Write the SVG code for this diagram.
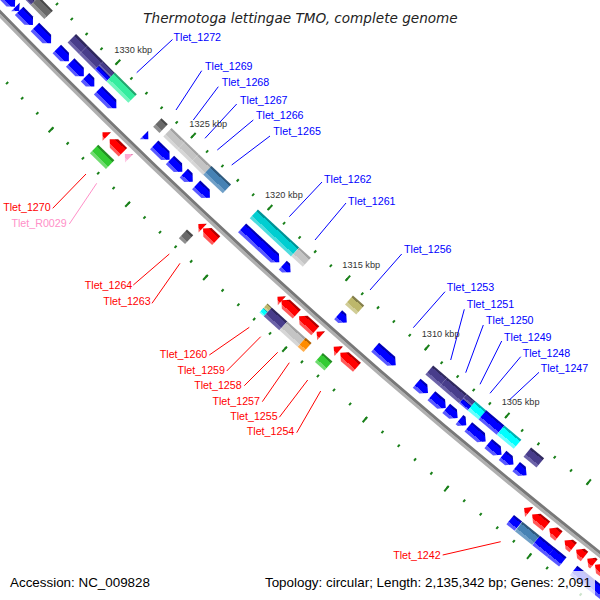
<svg xmlns="http://www.w3.org/2000/svg" width="600" height="600" viewBox="0 0 600 600">
<defs>
<linearGradient id="gBlue" x1="0" y1="0" x2="0" y2="1"><stop offset="0" stop-color="#0000b4"/><stop offset="0.18" stop-color="#0000b4"/><stop offset="0.18" stop-color="#0000ff"/><stop offset="0.72" stop-color="#0000ff"/><stop offset="0.72" stop-color="#5a5aff"/><stop offset="1" stop-color="#5a5aff"/></linearGradient>
<linearGradient id="gRed" x1="0" y1="0" x2="0" y2="1"><stop offset="0" stop-color="#b40000"/><stop offset="0.18" stop-color="#b40000"/><stop offset="0.18" stop-color="#ff0000"/><stop offset="0.72" stop-color="#ff0000"/><stop offset="0.72" stop-color="#ff5a5a"/><stop offset="1" stop-color="#ff5a5a"/></linearGradient>
<linearGradient id="gSlate" x1="0" y1="0" x2="0" y2="1"><stop offset="0" stop-color="#30295e"/><stop offset="0.18" stop-color="#30295e"/><stop offset="0.18" stop-color="#483d8b"/><stop offset="0.72" stop-color="#483d8b"/><stop offset="0.72" stop-color="#6c63a8"/><stop offset="1" stop-color="#6c63a8"/></linearGradient>
<linearGradient id="gDim" x1="0" y1="0" x2="0" y2="1"><stop offset="0" stop-color="#4a4a4a"/><stop offset="0.18" stop-color="#4a4a4a"/><stop offset="0.18" stop-color="#696969"/><stop offset="0.72" stop-color="#696969"/><stop offset="0.72" stop-color="#8f8f8f"/><stop offset="1" stop-color="#8f8f8f"/></linearGradient>
<linearGradient id="gGray" x1="0" y1="0" x2="0" y2="1"><stop offset="0" stop-color="#a2a2a2"/><stop offset="0.18" stop-color="#a2a2a2"/><stop offset="0.18" stop-color="#c4c4c4"/><stop offset="0.72" stop-color="#c4c4c4"/><stop offset="0.72" stop-color="#d6d6d6"/><stop offset="1" stop-color="#d6d6d6"/></linearGradient>
<linearGradient id="gSteel" x1="0" y1="0" x2="0" y2="1"><stop offset="0" stop-color="#305a7d"/><stop offset="0.18" stop-color="#305a7d"/><stop offset="0.18" stop-color="#4682b4"/><stop offset="0.72" stop-color="#4682b4"/><stop offset="0.72" stop-color="#70a0c8"/><stop offset="1" stop-color="#70a0c8"/></linearGradient>
<linearGradient id="gTurq" x1="0" y1="0" x2="0" y2="1"><stop offset="0" stop-color="#009396"/><stop offset="0.18" stop-color="#009396"/><stop offset="0.18" stop-color="#00ced1"/><stop offset="0.72" stop-color="#00ced1"/><stop offset="0.72" stop-color="#4ddcde"/><stop offset="1" stop-color="#4ddcde"/></linearGradient>
<linearGradient id="gCyan" x1="0" y1="0" x2="0" y2="1"><stop offset="0" stop-color="#00b3b3"/><stop offset="0.18" stop-color="#00b3b3"/><stop offset="0.18" stop-color="#00ffff"/><stop offset="0.72" stop-color="#00ffff"/><stop offset="0.72" stop-color="#66ffff"/><stop offset="1" stop-color="#66ffff"/></linearGradient>
<linearGradient id="gKhaki" x1="0" y1="0" x2="0" y2="1"><stop offset="0" stop-color="#847f4b"/><stop offset="0.18" stop-color="#847f4b"/><stop offset="0.18" stop-color="#bdb76b"/><stop offset="0.72" stop-color="#bdb76b"/><stop offset="0.72" stop-color="#d1cd97"/><stop offset="1" stop-color="#d1cd97"/></linearGradient>
<linearGradient id="gAqua" x1="0" y1="0" x2="0" y2="1"><stop offset="0" stop-color="#24a870"/><stop offset="0.18" stop-color="#24a870"/><stop offset="0.18" stop-color="#35ed9f"/><stop offset="0.72" stop-color="#35ed9f"/><stop offset="0.72" stop-color="#70f5bd"/><stop offset="1" stop-color="#70f5bd"/></linearGradient>
<linearGradient id="gGreen" x1="0" y1="0" x2="0" y2="1"><stop offset="0" stop-color="#248f24"/><stop offset="0.18" stop-color="#248f24"/><stop offset="0.18" stop-color="#33cc33"/><stop offset="0.72" stop-color="#33cc33"/><stop offset="0.72" stop-color="#70db70"/><stop offset="1" stop-color="#70db70"/></linearGradient>
<linearGradient id="gOrange" x1="0" y1="0" x2="0" y2="1"><stop offset="0" stop-color="#b36200"/><stop offset="0.18" stop-color="#b36200"/><stop offset="0.18" stop-color="#ff8c00"/><stop offset="0.72" stop-color="#ff8c00"/><stop offset="0.72" stop-color="#ffae4d"/><stop offset="1" stop-color="#ffae4d"/></linearGradient>
<linearGradient id="gPink" x1="0" y1="0" x2="0" y2="1"><stop offset="0" stop-color="#e088b4"/><stop offset="0.18" stop-color="#e088b4"/><stop offset="0.18" stop-color="#ffaad4"/><stop offset="0.72" stop-color="#ffaad4"/><stop offset="0.72" stop-color="#ffc8e4"/><stop offset="1" stop-color="#ffc8e4"/></linearGradient>
</defs>
<style>
.b{fill:url(#gBlue)} .r{fill:url(#gRed)} .sl{fill:url(#gSlate)} .dg{fill:url(#gDim)} .gr{fill:url(#gGray)}
.st{fill:url(#gSteel)} .tq{fill:url(#gTurq)} .cy{fill:url(#gCyan)} .kh{fill:url(#gKhaki)} .aq{fill:url(#gAqua)}
.gn{fill:url(#gGreen)} .or{fill:url(#gOrange)} .pk{fill:url(#gPink)}
.tick{fill:none;stroke:#1a801a}
.lb{stroke:#0000ff;stroke-width:1;fill:none} .lr{stroke:#ff0000;stroke-width:1;fill:none} .lp{stroke:#ff8fc8;stroke-width:1;fill:none}
.lab{font-family:"Liberation Sans",Arial,sans-serif;font-size:10.7px}
.fw{fill:#0000ff} .rv{fill:#ff0000;text-anchor:end} .rn{fill:#ff8fc8;text-anchor:end}
.kbp{font-family:"Liberation Sans",Arial,sans-serif;font-size:9.2px;fill:#333}
.foot{font-family:"Liberation Sans",Arial,sans-serif;font-size:13.4px;fill:#000}
</style>
<rect width="600" height="600" fill="#ffffff"/>
<g id="ticks">
<path class="tick" stroke-width="3" stroke-dasharray="2 19.044" stroke-dashoffset="1" d="M12.94,-41.15 A6121,6121 0 0 0 669.97,548.79"/>
<path class="tick" stroke-width="6" stroke-dasharray="2 103.18" stroke-dashoffset="-41.07" d="M14.74,-42.89 A6118.5,6118.5 0 0 0 671.50,546.81"/>
<path class="tick" stroke-width="3" stroke-dasharray="2 19.357" stroke-dashoffset="1" d="M-52.58,22.00 A6212,6212 0 0 0 614.22,620.72"/>
<path class="tick" stroke-width="6" stroke-dasharray="2 104.83" stroke-dashoffset="-41.73" d="M-54.38,23.74 A6214.5,6214.5 0 0 0 612.69,622.69"/>
</g>
<g id="backbone" fill="none">
<circle cx="4420" cy="-4289" r="6170" stroke="#b0b0b0" stroke-width="3"/>
<circle cx="4420" cy="-4289" r="6167" stroke="#787878" stroke-width="3"/>
</g>
<g id="features" transform="translate(4420 -4289)">
<g id="F1" transform="rotate(135.999) translate(6168.5) rotate(-90)"><polygon class="b" points="0,-21.75 24,-21.75 30,-15.75 24,-9.75 0,-9.75"/></g>
<g id="F2" transform="rotate(135.715) translate(6168.5) rotate(-90)"><polygon class="b" points="0,-21.75 5.4,-15.75 0,-9.75"/></g>
<g id="F3" transform="rotate(135.665) translate(6168.5) rotate(-90)"><polygon class="b" points="0,-21.75 13.7,-21.75 19.7,-15.75 13.7,-9.75 0,-9.75"/></g>
<g id="F4" transform="rotate(135.455) translate(6168.5) rotate(-90)"><polygon class="b" points="0,-21.75 17,-21.75 23,-15.75 17,-9.75 0,-9.75"/></g>
<g id="F5" transform="rotate(135.165) translate(6168.5) rotate(-90)"><polygon class="b" points="0,-21.75 11.1,-21.75 17.1,-15.75 11.1,-9.75 0,-9.75"/></g>
<g id="F6" transform="rotate(134.989) translate(6168.5) rotate(-90)"><polygon class="b" points="0,-21.75 13.3,-21.75 19.3,-15.75 13.3,-9.75 0,-9.75"/></g>
<g id="F7" transform="rotate(134.794) translate(6168.5) rotate(-90)"><polygon class="b" points="0,-21.75 7.1,-21.75 13.1,-15.75 7.1,-9.75 0,-9.75"/></g>
<g id="F8" transform="rotate(134.623) translate(6168.5) rotate(-90)"><polygon class="b" points="0,-21.75 19.7,-21.75 25.7,-15.75 19.7,-9.75 0,-9.75"/></g>
<g id="F9" transform="rotate(134.025) translate(6168.5) rotate(-90)"><polygon class="b" points="0,-21.75 6,-15.75 0,-9.75"/></g>
<g id="F10" transform="rotate(133.893) translate(6168.5) rotate(-90)"><polygon class="b" points="0,-21.75 15.4,-21.75 21.4,-15.75 15.4,-9.75 0,-9.75"/></g>
<g id="F11" transform="rotate(133.69) translate(6168.5) rotate(-90)"><polygon class="b" points="0,-21.75 11.1,-21.75 17.1,-15.75 11.1,-9.75 0,-9.75"/></g>
<g id="F12" transform="rotate(133.512) translate(6168.5) rotate(-90)"><polygon class="b" points="0,-21.75 6.4,-21.75 12.4,-15.75 6.4,-9.75 0,-9.75"/></g>
<g id="F13" transform="rotate(133.353) translate(6168.5) rotate(-90)"><polygon class="b" points="0,-21.75 12.9,-21.75 18.9,-15.75 12.9,-9.75 0,-9.75"/></g>
<g id="F14" transform="rotate(132.768) translate(6168.5) rotate(-90)"><polygon class="b" points="0,-21.75 44.7,-21.75 50.7,-15.75 44.7,-9.75 0,-9.75"/></g>
<g id="F15" transform="rotate(132.254) translate(6168.5) rotate(-90)"><polygon class="b" points="0,-21.75 4.5,-21.75 10.5,-15.75 4.5,-9.75 0,-9.75"/></g>
<g id="F16" transform="rotate(131.561) translate(6168.5) rotate(-90)"><polygon class="b" points="0,-21.75 5.5,-21.75 11.5,-15.75 5.5,-9.75 0,-9.75"/></g>
<g id="F17" transform="rotate(131.102) translate(6168.5) rotate(-90)"><polygon class="b" points="0,-21.75 21.3,-21.75 27.3,-15.75 21.3,-9.75 0,-9.75"/></g>
<g id="F18" transform="rotate(130.591) translate(6168.5) rotate(-90)"><polygon class="b" points="0,-21.75 8.9,-21.75 14.9,-15.75 8.9,-9.75 0,-9.75"/></g>
<g id="F19" transform="rotate(130.411) translate(6168.5) rotate(-90)"><polygon class="b" points="0,-21.75 12.9,-21.75 18.9,-15.75 12.9,-9.75 0,-9.75"/></g>
<g id="F20" transform="rotate(130.230) translate(6168.5) rotate(-90)"><polygon class="b" points="0,-21.75 9,-21.75 15,-15.75 9,-9.75 0,-9.75"/></g>
<g id="F21" transform="rotate(130.068) translate(6168.5) rotate(-90)"><polygon class="b" points="0,-21.75 2.9,-21.75 8.9,-15.75 2.9,-9.75 0,-9.75"/></g>
<g id="F22" transform="rotate(129.961) translate(6168.5) rotate(-90)"><polygon class="b" points="0,-21.75 16.7,-21.75 22.7,-15.75 16.7,-9.75 0,-9.75"/></g>
<g id="F23" transform="rotate(129.719) translate(6168.5) rotate(-90)"><polygon class="b" points="0,-21.75 11.3,-21.75 17.3,-15.75 11.3,-9.75 0,-9.75"/></g>
<g id="F24" transform="rotate(129.546) translate(6168.5) rotate(-90)"><polygon class="b" points="0,-21.75 8.2,-21.75 14.2,-15.75 8.2,-9.75 0,-9.75"/></g>
<g id="F25" transform="rotate(129.382) translate(6168.5) rotate(-90)"><polygon class="b" points="0,-21.75 7.5,-21.75 13.5,-15.75 7.5,-9.75 0,-9.75"/></g>

<g id="CF1" transform="rotate(135.85) translate(6168.5) rotate(-90)"><rect class="dg" x="0" y="-40" width="23.7" height="6"/><rect class="sl" x="0" y="-34" width="23.7" height="6"/></g>
<g id="CF2" transform="rotate(135.63) translate(6168.5) rotate(-90)"><rect class="dg" x="0" y="-40" width="19.7" height="12"/></g>
<g id="CF3" transform="rotate(135.138) translate(6168.5) rotate(-90)"><rect class="sl" x="0" y="-40" width="16.5" height="12"/><rect class="sl" x="16.5" y="-40" width="22" height="12"/><rect class="sl" x="38.5" y="-40" width="16.5" height="6"/><rect class="b" x="38.5" y="-34" width="16.5" height="6"/></g>
<g id="CF5" transform="rotate(134.627) translate(6168.5) rotate(-90)"><rect class="aq" x="0" y="-40" width="30.9" height="12"/></g>
<g id="CF6" transform="rotate(134.017) translate(6168.5) rotate(-90)"><rect class="dg" x="0" y="-40" width="8.8" height="12"/></g>
<g id="CF7" transform="rotate(133.886) translate(6168.5) rotate(-90)"><rect class="gr" x="0" y="-40" width="19.1" height="12"/><rect class="gr" x="19.1" y="-40" width="18.8" height="12"/><rect class="gr" x="37.9" y="-40" width="17.7" height="12"/></g>
<g id="CF8" transform="rotate(133.37) translate(6168.5) rotate(-90)"><rect class="st" x="0" y="-40" width="26.9" height="12"/></g>
<g id="CF9" transform="rotate(132.776) translate(6168.5) rotate(-90)"><rect class="tq" x="0" y="-40" width="56.2" height="12"/></g>
<g id="CF10" transform="rotate(132.25) translate(6168.5) rotate(-90)"><rect class="gr" x="0" y="-40" width="15.5" height="12"/></g>
<g id="CF11" transform="rotate(131.577) translate(6168.5) rotate(-90)"><rect class="kh" x="0" y="-40" width="15" height="12"/></g>
<g id="CF12" transform="rotate(130.582) translate(6168.5) rotate(-90)"><rect class="sl" x="0" y="-40" width="18.5" height="12"/></g>
<g id="CF13" transform="rotate(130.41) translate(6168.5) rotate(-90)"><rect class="sl" x="0" y="-40" width="25.8" height="12"/><rect class="sl" x="25.8" y="-40" width="11.3" height="6"/><rect class="b" x="25.8" y="-34" width="11.3" height="6"/></g>
<g id="CF15" transform="rotate(130.065) translate(6168.5) rotate(-90)"><rect class="cy" x="0" y="-40" width="14.3" height="12"/></g>
<g id="CF16" transform="rotate(129.932) translate(6168.5) rotate(-90)"><rect class="b" x="0" y="-40" width="23.6" height="12"/></g>
<g id="CF17" transform="rotate(129.711) translate(6168.5) rotate(-90)"><rect class="cy" x="0" y="-40" width="22.1" height="12"/></g>
<g id="CF18" transform="rotate(129.387) translate(6168.5) rotate(-90)"><rect class="sl" x="0" y="-40" width="16.8" height="12"/></g>

<g id="R1" transform="rotate(134.319) translate(6168.5) rotate(-90)"><polygon class="r" points="0,11.25 6,5.25 6,17.25"/></g>
<g id="R2" transform="rotate(134.226) translate(6168.5) rotate(-90)"><polygon class="r" points="0,11.25 6,5.25 18.5,5.25 18.5,17.25 6,17.25"/></g>
<g id="P1" transform="rotate(134.03) translate(6168.5) rotate(-90)"><polygon class="pk" points="0,11.25 6,5.25 6,17.25"/></g>
<g id="R3" transform="rotate(133.09) translate(6168.5) rotate(-90)"><polygon class="r" points="0,11.25 6,5.25 6,17.25"/></g>
<g id="R4" transform="rotate(133.03) translate(6168.5) rotate(-90)"><polygon class="r" points="0,11.25 6,5.25 18,5.25 18,17.25 6,17.25"/></g>
<g id="R5" transform="rotate(132.094) translate(6168.5) rotate(-90)"><polygon class="r" points="0,11.25 6,5.25 6,17.25"/></g>
<g id="R6" transform="rotate(132.044) translate(6168.5) rotate(-90)"><polygon class="r" points="0,11.25 6,5.25 20.7,5.25 20.7,17.25 6,17.25"/></g>
<g id="R7" transform="rotate(131.824) translate(6168.5) rotate(-90)"><polygon class="r" points="0,11.25 6,5.25 21.8,5.25 21.8,17.25 6,17.25"/></g>
<g id="R8" transform="rotate(131.606) translate(6168.5) rotate(-90)"><polygon class="r" points="0,11.25 6,5.25 6,17.25"/></g>
<g id="R9" transform="rotate(131.395) translate(6168.5) rotate(-90)"><polygon class="r" points="0,11.25 6,5.25 6.8,5.25 6.8,17.25 6,17.25"/></g>
<g id="R10" transform="rotate(131.313) translate(6168.5) rotate(-90)"><polygon class="r" points="0,11.25 6,5.25 22.2,5.25 22.2,17.25 6,17.25"/></g>
<g id="R11" transform="rotate(129.082) translate(6168.5) rotate(-90)"><polygon class="r" points="0,11.25 6,5.25 6.5,5.25 6.5,17.25 6,17.25"/></g>
<g id="R12" transform="rotate(128.986) translate(6168.5) rotate(-90)"><polygon class="r" points="0,11.25 6,5.25 18.4,5.25 18.4,17.25 6,17.25"/></g>
<g id="R13" transform="rotate(128.781) translate(6168.5) rotate(-90)"><polygon class="r" points="0,11.25 6,5.25 12.2,5.25 12.2,17.25 6,17.25"/></g>
<g id="R14" transform="rotate(128.600) translate(6168.5) rotate(-90)"><polygon class="r" points="0,11.25 6,5.25 11,5.25 11,17.25 6,17.25"/></g>
<g id="R15" transform="rotate(128.463) translate(6168.5) rotate(-90)"><polygon class="r" points="0,11.25 6,5.25 10.7,5.25 10.7,17.25 6,17.25"/></g>
<g id="R16" transform="rotate(128.331) translate(6168.5) rotate(-90)"><polygon class="r" points="0,11.25 6,5.25 8.4,5.25 8.4,17.25 6,17.25"/></g>
<g id="R17" transform="rotate(128.24) translate(6168.5) rotate(-90)"><polygon class="r" points="0,11.25 6,5.25 14,5.25 14,17.25 6,17.25"/></g>

<g id="RC1" transform="rotate(134.268) translate(6168.5) rotate(-90)"><rect class="gn" x="0" y="23" width="22.5" height="12"/></g>
<g id="RC2" transform="rotate(133.132) translate(6168.5) rotate(-90)"><rect class="dg" x="0" y="23" width="8.6" height="12"/></g>
<g id="RC3" transform="rotate(132.12) translate(6168.5) rotate(-90)"><rect class="kh" x="0" y="23" width="5.8" height="6"/><rect class="cy" x="0" y="29" width="5.8" height="6"/></g>
<g id="RC4" transform="rotate(132.066) translate(6168.5) rotate(-90)"><rect class="sl" x="0" y="23" width="20.9" height="12"/></g>
<g id="RC5" transform="rotate(131.872) translate(6168.5) rotate(-90)"><rect class="gr" x="0" y="23" width="24.4" height="12"/></g>
<g id="RC6" transform="rotate(131.645) translate(6168.5) rotate(-90)"><rect class="or" x="0" y="23" width="7.9" height="12"/></g>
<g id="RC7" transform="rotate(131.432) translate(6168.5) rotate(-90)"><rect class="gn" x="0" y="23" width="12.7" height="12"/></g>
<g id="RC8" transform="rotate(129.114) translate(6168.5) rotate(-90)"><rect class="b" x="0" y="23" width="10.5" height="12"/></g>
<g id="RC9" transform="rotate(129.013) translate(6168.5) rotate(-90)"><rect class="st" x="0" y="23" width="22.2" height="12"/></g>
<g id="RC10" transform="rotate(128.806) translate(6168.5) rotate(-90)"><rect class="b" x="0" y="23" width="18.9" height="12"/></g>
<g id="RC11" transform="rotate(128.633) translate(6168.5) rotate(-90)"><rect class="b" x="0" y="23" width="15.5" height="12"/></g>
<g id="RC12" transform="rotate(128.363) translate(6168.5) rotate(-90)"><rect class="b" x="0" y="23" width="40" height="12"/></g>
</g>

<g id="connectors">
<line class="lb" x1="136.7" y1="72.7" x2="172.5" y2="39.5"/>
<line class="lb" x1="176" y1="110" x2="201.7" y2="70.7"/>
<line class="lb" x1="193.3" y1="120" x2="218.3" y2="86.7"/>
<line class="lb" x1="205" y1="138.3" x2="236.7" y2="104"/>
<line class="lb" x1="217.3" y1="150" x2="253.3" y2="120"/>
<line class="lb" x1="231.7" y1="165" x2="270" y2="136"/>
<line class="lb" x1="289.3" y1="216.7" x2="322" y2="182"/>
<line class="lb" x1="315" y1="240" x2="346" y2="203"/>
<line class="lb" x1="370" y1="290" x2="401.7" y2="254"/>
<line class="lb" x1="413.3" y1="327.7" x2="445" y2="291.7"/>
<line class="lb" x1="450.7" y1="360" x2="464.3" y2="309.3"/>
<line class="lb" x1="465.7" y1="372.7" x2="483.3" y2="325"/>
<line class="lb" x1="480" y1="384.3" x2="501.7" y2="341"/>
<line class="lb" x1="490" y1="393.3" x2="520.7" y2="356.7"/>
<line class="lb" x1="509.3" y1="400" x2="539" y2="372.3"/>
<line class="lr" x1="86" y1="174" x2="52.7" y2="208.3"/>
<line class="lp" x1="96.7" y1="183.3" x2="69.3" y2="224"/>
<line class="lr" x1="169.3" y1="254" x2="133.3" y2="285"/>
<line class="lr" x1="180" y1="263.3" x2="152" y2="303.3"/>
<line class="lr" x1="249.3" y1="327.3" x2="209.3" y2="355"/>
<line class="lr" x1="260.7" y1="336.7" x2="226.7" y2="371"/>
<line class="lr" x1="277.7" y1="352.3" x2="244.3" y2="385.7"/>
<line class="lr" x1="289.3" y1="362.7" x2="262.3" y2="401.7"/>
<line class="lr" x1="307.7" y1="380" x2="279.3" y2="417.3"/>
<line class="lr" x1="320.7" y1="391" x2="296.7" y2="432.7"/>
<line class="lr" x1="500.7" y1="541.7" x2="442.7" y2="555"/>
</g>

<g id="labels" class="lab">
<text class="fw" x="173.5" y="41">Tlet_1272</text>
<text class="fw" x="205" y="70.4">Tlet_1269</text>
<text class="fw" x="221.7" y="86">Tlet_1268</text>
<text class="fw" x="240" y="104.4">Tlet_1267</text>
<text class="fw" x="256" y="119.4">Tlet_1266</text>
<text class="fw" x="273.3" y="135.4">Tlet_1265</text>
<text class="fw" x="324" y="182.7">Tlet_1262</text>
<text class="fw" x="348" y="205">Tlet_1261</text>
<text class="fw" x="404" y="252.7">Tlet_1256</text>
<text class="fw" x="446.7" y="291">Tlet_1253</text>
<text class="fw" x="466.7" y="308.4">Tlet_1251</text>
<text class="fw" x="486" y="324.4">Tlet_1250</text>
<text class="fw" x="504" y="341">Tlet_1249</text>
<text class="fw" x="522.7" y="356.7">Tlet_1248</text>
<text class="fw" x="540.7" y="371.7">Tlet_1247</text>
<text class="rv" x="50.7" y="211">Tlet_1270</text>
<text class="rn" x="66.7" y="227">Tlet_R0029</text>
<text class="rv" x="132.3" y="288.7">Tlet_1264</text>
<text class="rv" x="150.7" y="305.4">Tlet_1263</text>
<text class="rv" x="207.3" y="357.7">Tlet_1260</text>
<text class="rv" x="225" y="374.4">Tlet_1259</text>
<text class="rv" x="241.7" y="389.4">Tlet_1258</text>
<text class="rv" x="260" y="405.4">Tlet_1257</text>
<text class="rv" x="277.7" y="420.4">Tlet_1255</text>
<text class="rv" x="294.3" y="435.4">Tlet_1254</text>
<text class="rv" x="440.7" y="559.4">Tlet_1242</text>
</g>
<g id="kbp" class="kbp">
<text x="114.3" y="53.3">1330 kbp</text>
<text x="189.3" y="126.7">1325 kbp</text>
<text x="265" y="198.3">1320 kbp</text>
<text x="342.3" y="268.3">1315 kbp</text>
<text x="421.7" y="337.3">1310 kbp</text>
<text x="501.7" y="405">1305 kbp</text>
</g>
<text id="title" x="300.5" y="22.7" text-anchor="middle" font-family="DejaVu Sans, sans-serif" font-style="italic" font-size="13.6" fill="#222">Thermotoga lettingae TMO, complete genome</text>
<rect x="255" y="571" width="340" height="26" fill="#ffffff" fill-opacity="0.78"/>
<text class="foot" x="10" y="586.5">Accession: NC_009828</text>
<text class="foot" x="591" y="586.5" text-anchor="end">Topology: circular; Length: 2,135,342 bp; Genes: 2,091</text>
</svg>
